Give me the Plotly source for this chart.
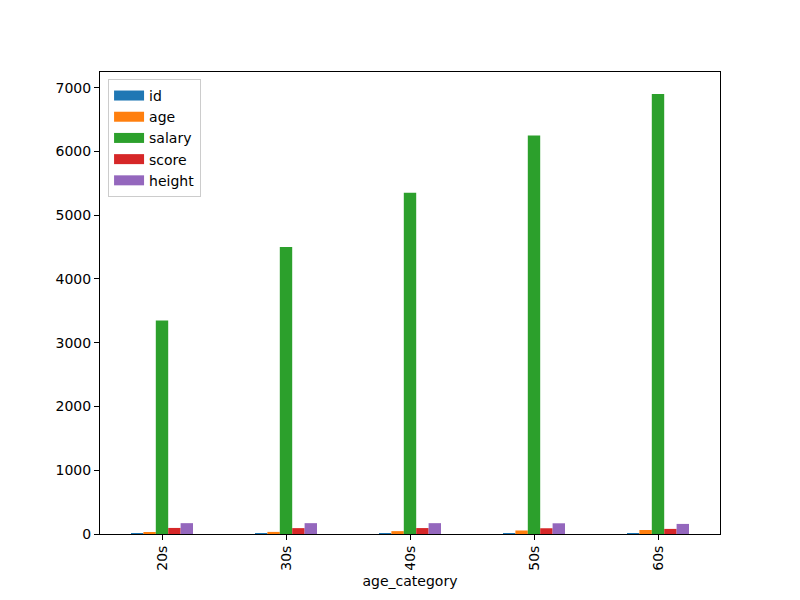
import plotly.graph_objects as go

categories = ["20s", "30s", "40s", "50s", "60s"]
id_vals = [1, 2, 2, 3, 14]
age_vals = [25, 33, 45, 55, 63]
salary_vals = [3350, 4500, 5350, 6250, 6900]
score_vals = [95, 92, 93, 90, 80]
height_vals = [170, 170, 170, 168, 158]

series = [
    ("id", id_vals, "#1f77b4"),
    ("age", age_vals, "#ff7f0e"),
    ("salary", salary_vals, "#2ca02c"),
    ("score", score_vals, "#d62728"),
    ("height", height_vals, "#9467bd"),
]

fig = go.Figure()
for name, vals, color in series:
    fig.add_trace(go.Bar(x=categories, y=vals, name=name, showlegend=False,
                         marker=dict(color=color, line=dict(width=0))))
# legend entries drawn as thick lines so they look like wide patches
for name, vals, color in series:
    fig.add_trace(go.Scatter(x=[None], y=[None], name=name, mode="lines",
                             line=dict(color=color, width=10)))

fig.update_layout(
    width=800, height=600,
    paper_bgcolor="white", plot_bgcolor="white",
    font=dict(family="DejaVu Sans", size=14, color="black"),
    margin=dict(l=92, r=88, t=64, b=74, autoexpand=False),
    barmode="group", bargap=0.5, bargroupgap=0,
    showlegend=True,
    legend=dict(x=0.013, y=0.985, xanchor="left", yanchor="top",
                bordercolor="#cccccc", borderwidth=1, bgcolor="white",
                font=dict(size=14), tracegroupgap=0, itemwidth=30),
    xaxis=dict(title=dict(text="age_category", standoff=6, font=dict(size=14)),
               tickangle=-90, tickfont=dict(size=14),
               showline=True, linecolor="black", mirror=True,
               ticks="outside", ticklen=5, tickcolor="black",
               showgrid=False, range=[-0.5, 4.5]),
    yaxis=dict(range=[0, 7245], tickvals=[0, 1000, 2000, 3000, 4000, 5000, 6000, 7000],
               tickfont=dict(size=14),
               showline=True, linecolor="black", mirror=True,
               ticks="outside", ticklen=5, tickcolor="black",
               showgrid=False, zeroline=False),
)

fig.write_html("out.html")
